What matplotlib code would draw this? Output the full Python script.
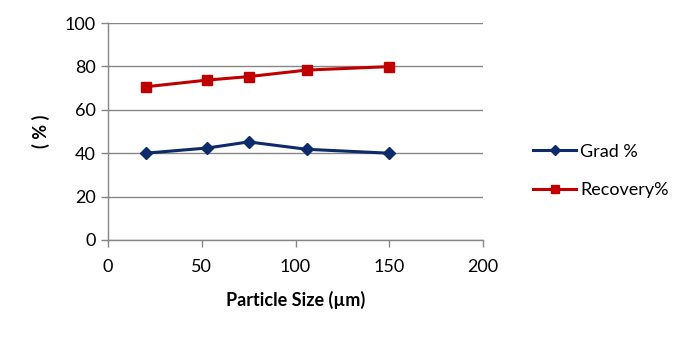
import matplotlib
matplotlib.use("Agg")
from matplotlib import pyplot as plt

# particle size (um) and the two measured series (%)
particle_size = [20, 53, 75, 106, 150]
grad = [40.0, 42.4, 45.2, 41.8, 40.0]
recovery = [70.6, 73.7, 75.3, 78.3, 79.9]

x_ticks = [0, 50, 100, 150, 200]
y_ticks = [0, 20, 40, 60, 80, 100]

plt.rcParams["font.family"] = ["Lato", "DejaVu Sans"]

grid_grey = "#868686"
blue = "#0d2a6b"
red = "#c00000"
fs = 13

fig = plt.figure(figsize=(6.89, 3.38), dpi=100)
ax = fig.add_axes([108 / 689, 1 - 240 / 338, 375 / 689, 217 / 338])

ax.plot(particle_size, grad, color=blue, lw=2.2, marker="D", ms=6.5,
        label="Grad %", zorder=3)
ax.plot(particle_size, recovery, color=red, lw=2.2, marker="s", ms=7.5,
        label="Recovery%", zorder=3)

ax.set_xlim(0, 200)
ax.set_ylim(0, 100)
ax.set_xticks(x_ticks)
ax.set_yticks(y_ticks)
ax.yaxis.grid(True, color=grid_grey, lw=1)
ax.set_axisbelow(True)

for side in ("top", "right"):
    ax.spines[side].set_visible(False)
for side in ("left", "bottom"):
    ax.spines[side].set_color(grid_grey)
    ax.spines[side].set_linewidth(1)
ax.tick_params(axis="both", colors=grid_grey, length=5, width=1,
               labelcolor="black", labelsize=fs, pad=4)
ax.tick_params(axis="x", pad=9)

ax.set_xlabel("Particle Size (\u00b5m)", fontsize=fs, fontweight="bold",
              labelpad=11)
ax.set_ylabel("( % )", fontsize=fs, fontweight="bold", labelpad=10)

ax.legend(loc="center left", bbox_to_anchor=(1.09, 0.318), frameon=False,
          fontsize=fs, handlelength=2.4, handletextpad=0.2, labelspacing=1.25,
          markerscale=0.85)

fig.savefig("out.png", dpi=100)
